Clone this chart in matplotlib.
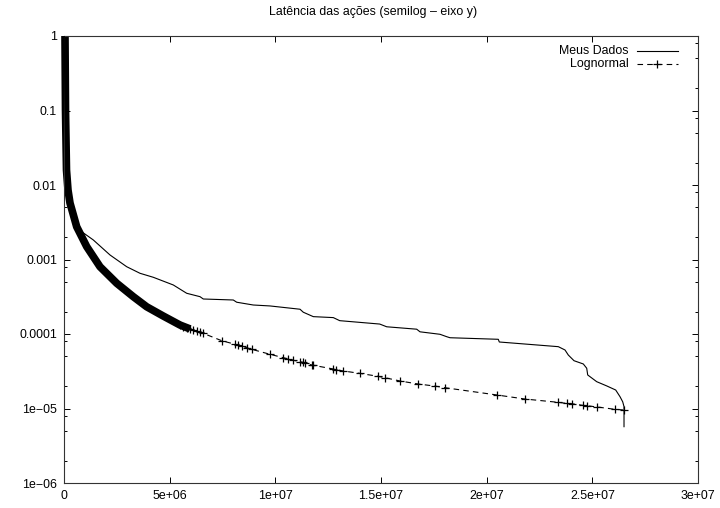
import matplotlib
matplotlib.use("Agg")
import matplotlib.pyplot as plt
from matplotlib.lines import Line2D
from matplotlib.ticker import FixedLocator, NullFormatter

plt.rcParams['font.family'] = ['Liberation Sans', 'DejaVu Sans']
plt.rcParams['lines.scale_dashes'] = False

# ---------------- data ----------------
title = "Latência das ações (semilog – eixo y)"
series_names = ["Meus Dados", "Lognormal"]

meus_x = [1.4e4, 3.8e4, 7.1e4, 1.42e5, 2.84e5, 5.21e5, 8.38e5, 1.386e6, 2.177e6,
          2.967e6, 3.596e6, 4.226e6, 5.172e6, 5.806e6, 6.435e6, 6.592e6, 7.382e6,
          8.011e6, 8.172e6, 8.957e6, 9.748e6, 1.1167e7, 1.1323e7, 1.1797e7,
          1.2743e7, 1.3046e7, 1.4939e7, 1.5270e7, 1.6689e7, 1.6845e7, 1.7792e7,
          1.8109e7, 1.8265e7, 2.0550e7, 2.0598e7, 2.3390e7, 2.3707e7, 2.3863e7,
          2.4133e7, 2.4573e7, 2.4734e7, 2.4781e7, 2.5207e7, 2.5680e7, 2.6106e7,
          2.6310e7, 2.6437e7, 2.6499e7, 2.6499e7]
meus_y = [1.0, 0.138, 0.0295, 0.00857, 0.00507, 0.00319, 0.00236, 0.00183, 0.00115,
          8.00e-4, 6.53e-4, 5.77e-4, 4.55e-4, 3.52e-4, 3.17e-4, 2.95e-4, 2.90e-4,
          2.86e-4, 2.67e-4, 2.45e-4, 2.38e-4, 2.15e-4, 1.96e-4, 1.71e-4,
          1.66e-4, 1.51e-4, 1.36e-4, 1.25e-4, 1.16e-4, 1.07e-4, 9.91e-5,
          9.20e-5, 8.91e-5, 8.49e-5, 7.81e-5, 6.76e-5, 6.10e-5, 5.22e-5,
          4.38e-5, 3.96e-5, 3.47e-5, 2.82e-5, 2.29e-5, 2.01e-5, 1.77e-5,
          1.44e-5, 1.23e-5, 1.06e-5, 5.70e-6]

# dense part of the lognormal fit (markers overlap into a solid band)
logn_band_x = [4.7e4, 7.1e4, 1.18e5, 1.89e5, 2.84e5, 6.01e5, 1.074e6, 1.703e6,
               2.494e6, 3.279e6, 3.913e6, 4.685e6, 5.489e6, 5.962e6]
logn_band_y = [1.0, 0.1016, 0.0159, 0.00857, 0.00573, 0.00275, 0.00149, 8.00e-4,
               4.80e-4, 3.17e-4, 2.32e-4, 1.75e-4, 1.32e-4, 1.17e-4]

# sparse lognormal points
logn_x = [5.489e6, 5.645e6, 5.806e6, 5.962e6, 6.118e6, 6.279e6, 6.435e6, 6.592e6,
          7.462e6, 8.092e6, 8.248e6, 8.409e6, 8.645e6, 8.882e6, 9.748e6, 1.0377e7,
          1.0614e7, 1.0850e7, 1.1167e7, 1.1295e7, 1.1404e7, 1.1721e7, 1.1797e7,
          1.2743e7, 1.2871e7, 1.3216e7, 1.4006e7, 1.4872e7, 1.5189e7, 1.5899e7,
          1.6765e7, 1.7555e7, 1.8029e7, 2.0475e7, 2.1814e7, 2.3390e7, 2.3787e7,
          2.4024e7, 2.4573e7, 2.4734e7, 2.5207e7, 2.6073e7, 2.6499e7]
logn_y = [1.32e-4, 1.24e-4, 1.20e-4, 1.17e-4, 1.13e-4, 1.10e-4, 1.06e-4, 1.02e-4,
          8.13e-5, 7.28e-5, 7.11e-5, 6.90e-5, 6.55e-5, 6.23e-5, 5.34e-5, 4.81e-5,
          4.62e-5, 4.44e-5, 4.25e-5, 4.17e-5, 4.04e-5, 3.84e-5, 3.80e-5,
          3.39e-5, 3.32e-5, 3.19e-5, 2.96e-5, 2.70e-5, 2.59e-5, 2.34e-5,
          2.13e-5, 2.00e-5, 1.90e-5, 1.52e-5, 1.34e-5, 1.21e-5, 1.17e-5,
          1.16e-5, 1.10e-5, 1.09e-5, 1.05e-5, 9.75e-6, 9.54e-6]

x_ticks = [0, 5e6, 1e7, 1.5e7, 2e7, 2.5e7, 3e7]
x_tick_labels = ["0", "5e+06", "1e+07", "1.5e+07", "2e+07", "2.5e+07", "3e+07"]
y_ticks = [1e-6, 1e-5, 1e-4, 1e-3, 1e-2, 1e-1, 1]
y_tick_labels = ["1e\u221206", "1e\u221205", "0.0001", "0.001", "0.01", "0.1", "1"]

# ---------------- figure ----------------
fig = plt.figure(figsize=(7.2, 5.08), dpi=100)
ax = fig.add_axes([64 / 720, 1 - 483 / 508, (698 - 64) / 720, (483 - 36) / 508])

ax.set_yscale('log')
ax.set_xlim(0, 3e7)
ax.set_ylim(1e-6, 1)

# lognormal: dense band + dashed line with + markers
ax.plot(logn_band_x, logn_band_y, color='black', lw=5.5, solid_capstyle='butt',
        solid_joinstyle='round', zorder=2, clip_on=False)
ax.plot(logn_x, logn_y, color='black', lw=0.8, ls=(0, (4, 3)), marker='+',
        markersize=5.5, markeredgewidth=0.9, zorder=3)
# measured data
ax.plot(meus_x, meus_y, color='black', lw=0.8, zorder=4)

# ticks
fs = 8.9
ax.set_xticks(x_ticks)
ax.set_xticklabels(x_tick_labels, fontsize=fs)
ax.set_yticks(y_ticks)
ax.set_yticklabels(y_tick_labels, fontsize=fs)
minor = [m * 10.0 ** e for e in range(-6, 0) for m in (2, 5, 8)]
ax.yaxis.set_minor_locator(FixedLocator(minor))
ax.yaxis.set_minor_formatter(NullFormatter())
ax.xaxis.set_minor_locator(FixedLocator([]))
ax.tick_params(which='major', direction='in', length=4.5, width=0.7,
               top=True, right=True, pad=5, colors='black')
ax.tick_params(which='minor', direction='in', length=2.2, width=0.7,
               left=True, right=True, top=False, bottom=False)
for s in ax.spines.values():
    s.set_linewidth(0.8)
    s.set_color('#333333')

fig.text(373 / 720, 1 - 12 / 508, title, ha='center', va='center', fontsize=fs)

# gnuplot-style key (text right aligned, sample to its right)
key_text_x = 0.890
key_x0, key_x1 = 0.903, 0.968
key_rows = [1 - (50.5 - 36) / 447, 1 - (63.5 - 36) / 447]
ax.text(key_text_x, key_rows[0], series_names[0], transform=ax.transAxes,
        ha='right', va='center', fontsize=fs)
ax.text(key_text_x, key_rows[1], series_names[1], transform=ax.transAxes,
        ha='right', va='center', fontsize=fs)
ax.add_line(Line2D([key_x0, key_x1], [key_rows[0]] * 2, transform=ax.transAxes,
                   color='black', lw=0.8))
ax.add_line(Line2D([key_x0, key_x1], [key_rows[1]] * 2, transform=ax.transAxes,
                   color='black', lw=0.8, ls=(0, (4, 3))))
ax.add_line(Line2D([(key_x0 + key_x1) / 2], [key_rows[1]], transform=ax.transAxes,
                   color='black', marker='+', markersize=5.5, markeredgewidth=0.9,
                   ls='none'))

fig.savefig('out.png', dpi=100)
